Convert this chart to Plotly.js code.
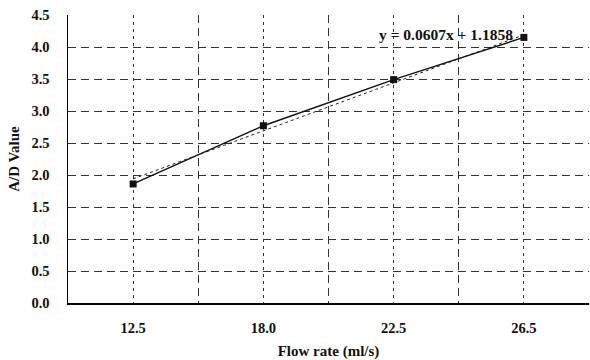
<!DOCTYPE html>
<html>
<head>
<meta charset="utf-8">
<script src="https://cdn.plot.ly/plotly-3.0.1.min.js"></script>
<style>html,body{margin:0;padding:0;background:#fff;}#chart{width:590px;height:360px;}</style>
</head>
<body>
<div id="chart"></div>
<script>
// Data
const categories = ['12.5', '18.0', '22.5', '26.5'];   // Flow rate (ml/s)
const adValues = [1.86, 2.77, 3.49, 4.15];              // A/D Value
const trendY = [1.94, 4.19];                             // linear trendline at first/last category
const equationText = 'y = 0.0607x + 1.1858';

const idx = categories.map((c, i) => i + 1);
const tickVals = [];
const tickText = [];
for (let i = 0; i < categories.length; i++) {
  tickVals.push(i + 1);
  tickText.push(categories[i]);
}

const fam = '"Liberation Serif", "Times New Roman", serif';

const traces = [
  {
    x: idx, y: adValues, type: 'scatter', mode: 'lines+markers',
    line: {color: '#111', width: 1.4},
    marker: {symbol: 'square', size: 7, color: '#111'},
    showlegend: false, hoverinfo: 'skip'
  },
  {
    x: [idx[0], idx[idx.length - 1]], y: trendY, type: 'scatter', mode: 'lines',
    line: {color: '#222', width: 1, dash: 'dot'},
    showlegend: false, hoverinfo: 'skip'
  }
];

const layout = {
  width: 590, height: 360,
  margin: {l: 68, r: 1, t: 15, b: 57},
  paper_bgcolor: '#fff', plot_bgcolor: '#fff',
  font: {family: fam, color: '#111'},
  xaxis: {
    range: [0.5, 4.5],
    tickmode: 'array', tickvals: tickVals, ticktext: tickText,
    showgrid: true, gridcolor: '#333', gridwidth: 1, griddash: '3px,4px',
    minor: {tickmode: 'linear', tick0: 0.5, dtick: 1, showgrid: true, gridcolor: '#333', gridwidth: 1, griddash: '8px,5px'},
    zeroline: false,
    showline: true, linecolor: '#000', linewidth: 1.5,
    ticks: '', ticklabelstandoff: 11,
    tickfont: {family: fam, size: 14.5, color: '#111', weight: 'bold'},
    title: {text: 'Flow rate (ml/s)', font: {family: fam, size: 15, color: '#111', weight: 'bold'}, standoff: 12},
    fixedrange: true
  },
  yaxis: {
    range: [0, 4.5],
    tickmode: 'linear', tick0: 0, dtick: 0.5, tickformat: '.1f',
    showgrid: true, gridcolor: '#333', gridwidth: 1, griddash: '8px,5px',
    zeroline: false,
    showline: true, linecolor: '#000', linewidth: 1.5,
    ticks: '', ticklabelstandoff: 14,
    tickfont: {family: fam, size: 14.5, color: '#111', weight: 'bold'},
    title: {text: 'A/D Value', font: {family: fam, size: 15, color: '#111', weight: 'bold'}, standoff: 8},
    fixedrange: true
  },
  annotations: [{
    x: 3.4, y: 4.19, xref: 'x', yref: 'y', xanchor: 'center', yanchor: 'middle',
    text: equationText, showarrow: false,
    font: {family: fam, size: 15.5, color: '#111', weight: 'bold'}
  }]
};

Plotly.newPlot('chart', traces, layout, {staticPlot: true, displayModeBar: false});
</script>
</body>
</html>
